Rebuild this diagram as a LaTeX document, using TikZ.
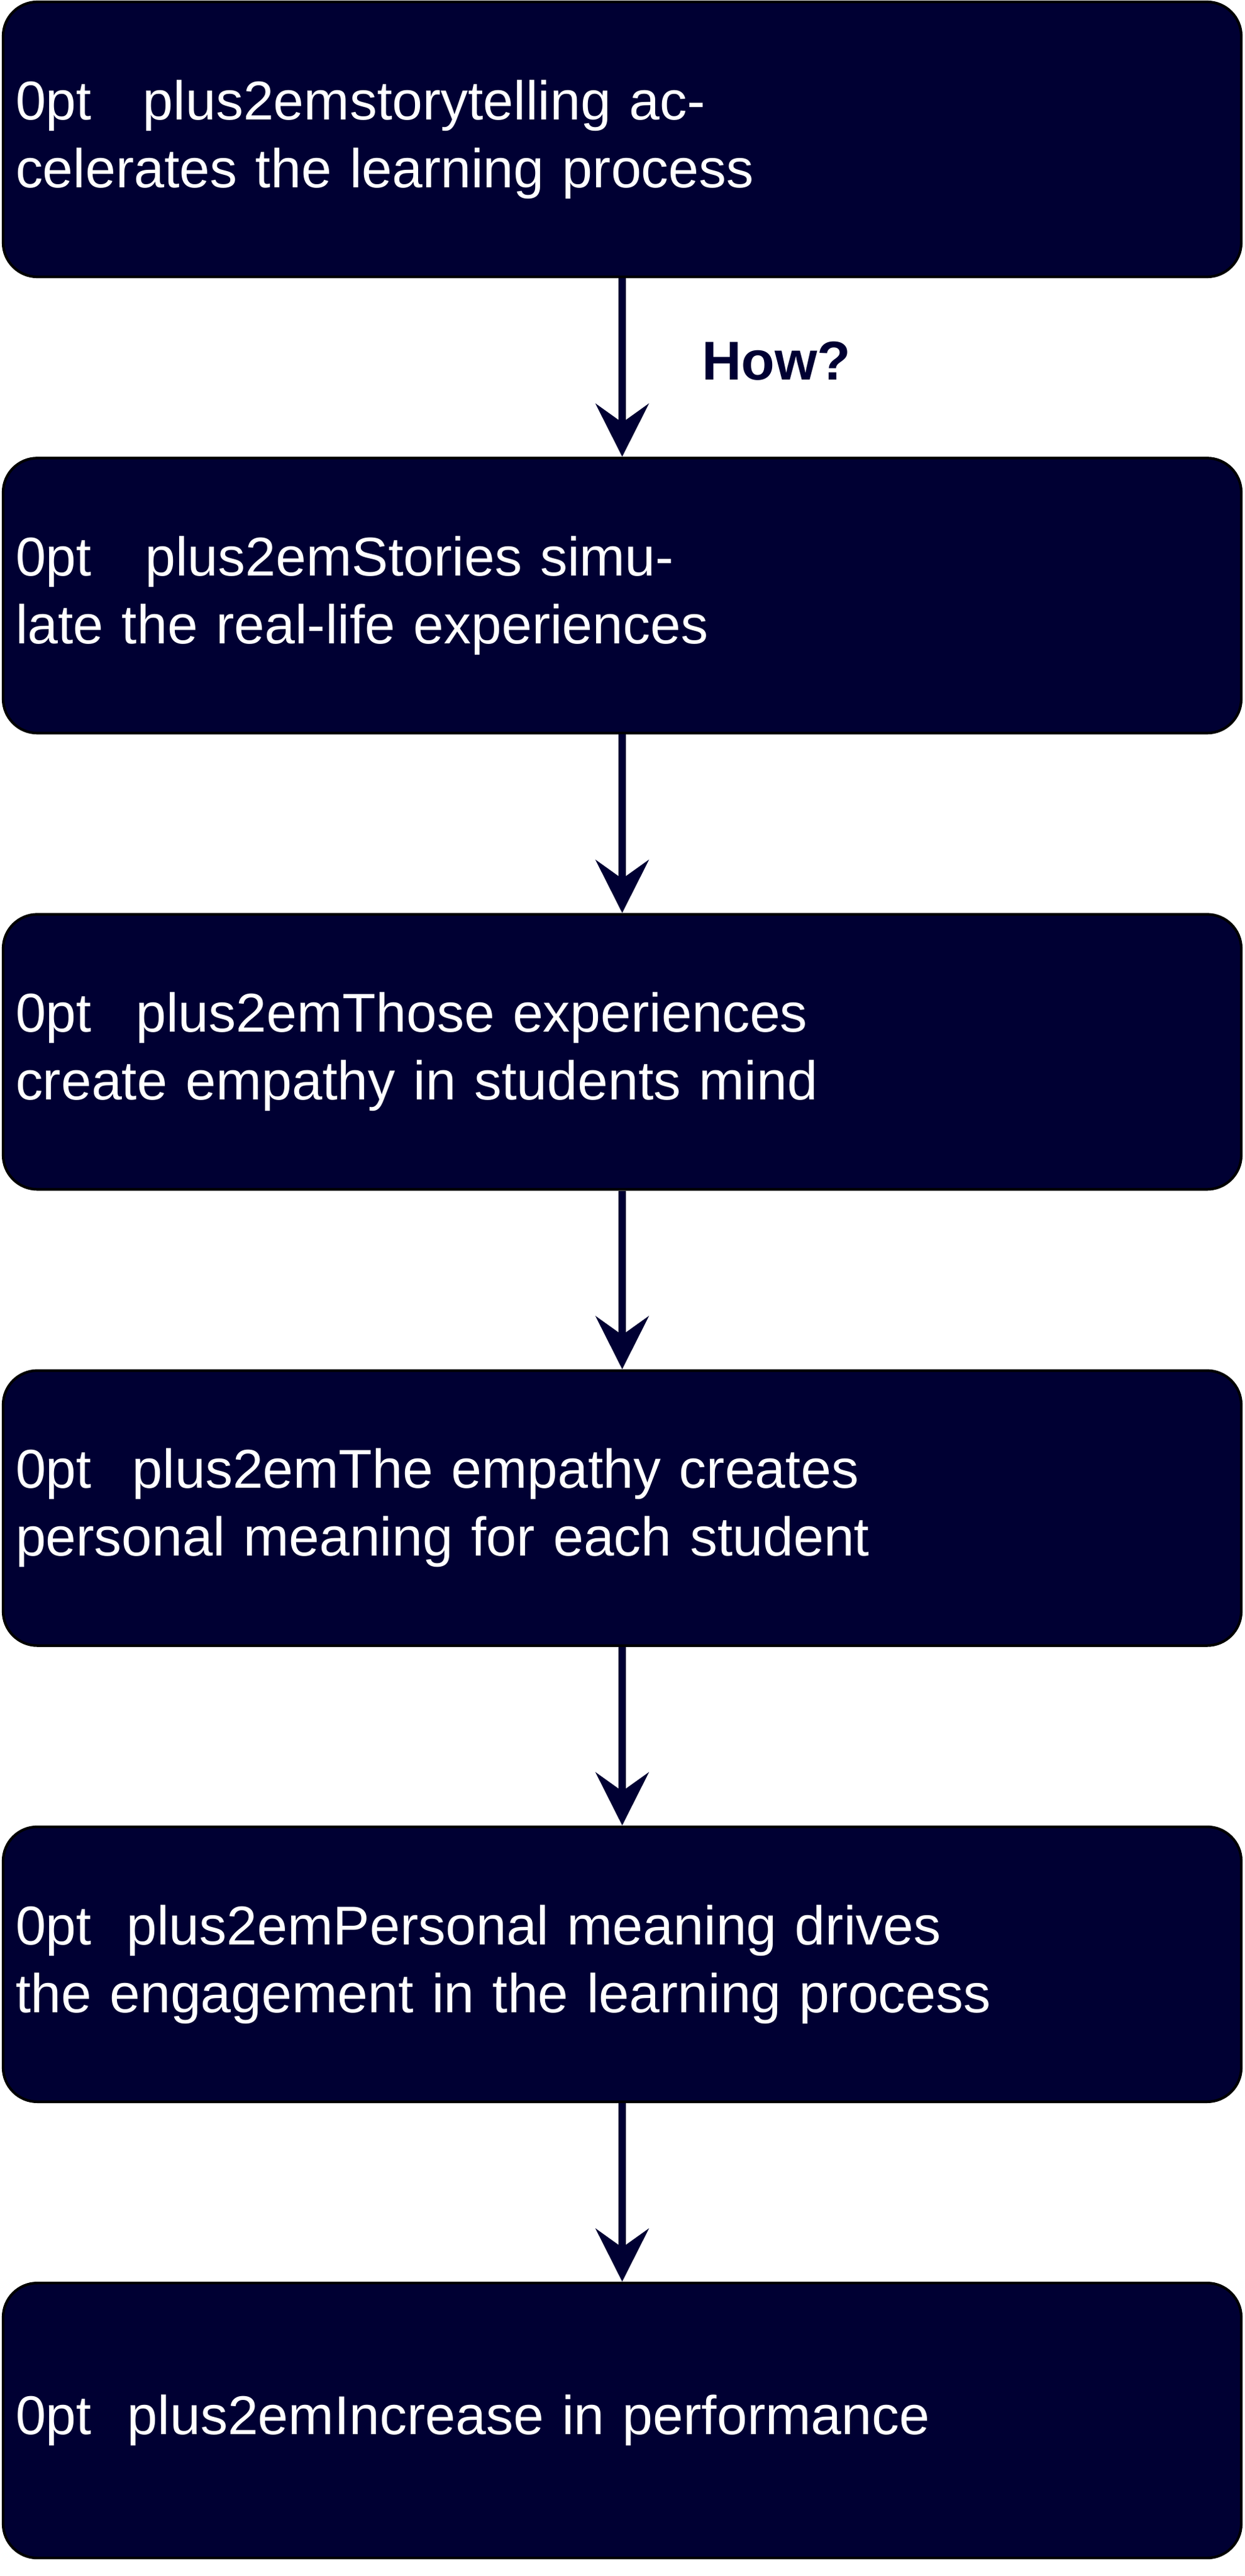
\documentclass[tikz,border=0pt]{standalone}
\usepackage{fontspec}
\setmainfont{Liberation Sans}
\usetikzlibrary{positioning,arrows.meta}
\definecolor{navy}{HTML}{000033}
\tikzset{
  stepbox/.style={rectangle, rounded corners=0.55cm, draw=black, line width=1.2pt, fill=navy,
    text=white, minimum width=19.9cm, minimum height=4.42cm, text width=19.5cm, align=center,
    inner sep=0.1cm, font=\fontsize{25}{31}\selectfont\hyphenpenalty=10000},
  flow/.style={-{Stealth[length=0.85cm,width=0.85cm,inset=0.3cm]}, draw=navy, line width=3.6pt}
}
\begin{document}
\begin{tikzpicture}[node distance=2.87cm]
  \useasboundingbox (0,0) rectangle (20,-41.4);
  \node[stepbox] (claim) at (10,-2.24) {storytelling accelerates the learning process};
  \node[stepbox, below=of claim] (stories) {Stories simulate the real-life experiences};
  \node[stepbox, below=of stories] (empathy) {Those experiences create empathy in students mind};
  \node[stepbox, below=of empathy] (meaning) {The empathy creates personal meaning for each student};
  \node[stepbox, below=of meaning] (engage) {Personal meaning drives the engagement in the learning process};
  \node[stepbox, below=of engage] (perf) {Increase in performance};

  \draw[flow] (claim) -- node[right=1.1cm, text=navy, font=\bfseries\fontsize{25}{28}\selectfont, yshift=0.1cm] {How?} (stories);
  \draw[flow] (stories) -- (empathy);
  \draw[flow] (empathy) -- (meaning);
  \draw[flow] (meaning) -- (engage);
  \draw[flow] (engage) -- (perf);
\end{tikzpicture}
\end{document}
